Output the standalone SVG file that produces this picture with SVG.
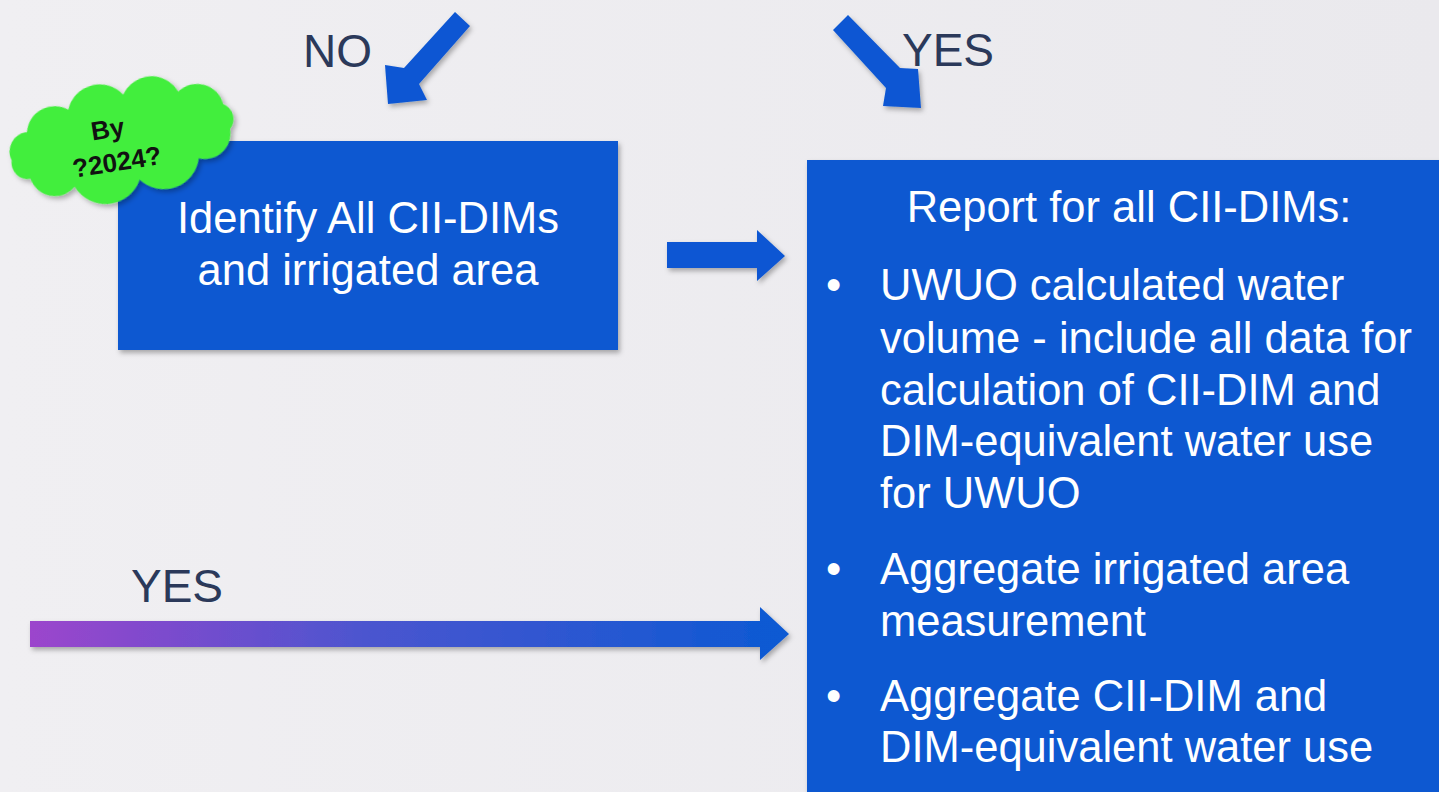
<svg xmlns="http://www.w3.org/2000/svg" width="1439" height="792" viewBox="0 0 1439 792">
  <defs>
    <linearGradient id="bg" x1="0" y1="0" x2="1" y2="0">
      <stop offset="0" stop-color="#f0eff2"/>
      <stop offset="1" stop-color="#eae9ed"/>
    </linearGradient>
    <linearGradient id="purpleBlue" x1="30" y1="0" x2="790" y2="0" gradientUnits="userSpaceOnUse">
      <stop offset="0" stop-color="#9c45cc"/>
      <stop offset="0.45" stop-color="#4a55cf"/>
      <stop offset="1" stop-color="#0b5ad3"/>
    </linearGradient>
    <filter id="shadow" x="-10%" y="-10%" width="130%" height="130%">
      <feDropShadow dx="2" dy="3" stdDeviation="2.5" flood-color="#000" flood-opacity="0.3"/>
    </filter>
    <style>
      .box { fill: #0a58d1; filter: url(#shadow); }
      .arrow { fill: #0b57d3; filter: url(#shadow); }
      .label { font-family: "Liberation Sans", Arial, sans-serif; font-size: 46px; fill: #2b395a; }
      .boxtext { font-family: "Liberation Sans", Arial, sans-serif; fill: #ffffff; font-size: 43.5px; }
      .cloudtext { font-family: "Liberation Sans", Arial, sans-serif; font-weight: bold; font-size: 26px; fill: #111; }
    </style>
  </defs>

  <rect x="0" y="0" width="1439" height="792" fill="url(#bg)"/>

  <g id="connectors">
    <polygon class="arrow" points="470,26 455,12 404,68 385,65 388,104 427,100 419,84"/>
    <polygon class="arrow" points="833,30 848,15 900,68 918,69 921,108 883,106 886,88"/>
    <polygon class="arrow" points="667,242 757,242 757,230 785,256 757,281 757,268 667,268"/>
    <polygon points="30,621 760,621 760,607 789,634 760,660 760,647 30,647" fill="url(#purpleBlue)" filter="url(#shadow)"/>
  </g>

  <g id="label-no"><text class="label" x="303" y="67">NO</text></g>
  <g id="label-yes-top"><text class="label" x="902" y="66">YES</text></g>
  <g id="label-yes-bottom"><text class="label" x="131" y="602" font-size="48">YES</text></g>

  <g id="identify">
    <rect class="box" x="118" y="141" width="500" height="209"/>
    <text class="boxtext" text-anchor="middle" x="368" y="233">Identify All CII-DIMs</text>
    <text class="boxtext" text-anchor="middle" x="368" y="285">and irrigated area</text>
  </g>

  <g id="cloud">
    <path transform="translate(122 139) rotate(-11) scale(1.07 1.08)" d="M -105,0 A 18 18 0 0 1 -86,-23 A 26 26 0 0 1 -44,-36 A 30 30 0 0 1 9,-40 A 29 29 0 0 1 60,-33 A 25 25 0 0 1 99,-14 A 15 15 0 0 1 101,10 A 24 24 0 0 1 67,31 A 33 33 0 0 1 9,40 A 34 34 0 0 1 -52,35 A 24 24 0 0 1 -91,20 A 15 15 0 0 1 -105,0 Z" fill="#43ee3e" filter="url(#shadow)"/>
    <g transform="rotate(-9 115 150)">
      <text class="cloudtext" text-anchor="middle" x="111" y="137">By</text>
      <text class="cloudtext" text-anchor="middle" x="115" y="171">?2024?</text>
    </g>
  </g>

  <g id="report">
    <rect class="box" x="807" y="160" width="640" height="640"/>
    <text class="boxtext" text-anchor="middle" x="1129" y="222">Report for all CII-DIMs:</text>
    <text class="boxtext" x="826" y="300">•</text>
    <text class="boxtext" x="880" y="300">UWUO calculated water</text>
    <text class="boxtext" x="880" y="353">volume - include all data for</text>
    <text class="boxtext" x="880" y="405">calculation of CII-DIM and</text>
    <text class="boxtext" x="880" y="456">DIM-equivalent water use</text>
    <text class="boxtext" x="880" y="508">for UWUO</text>
    <text class="boxtext" x="826" y="584">•</text>
    <text class="boxtext" x="880" y="584">Aggregate irrigated area</text>
    <text class="boxtext" x="880" y="636">measurement</text>
    <text class="boxtext" x="826" y="711">•</text>
    <text class="boxtext" x="880" y="711">Aggregate CII-DIM and</text>
    <text class="boxtext" x="880" y="762">DIM-equivalent water use</text>
  </g>
</svg>
